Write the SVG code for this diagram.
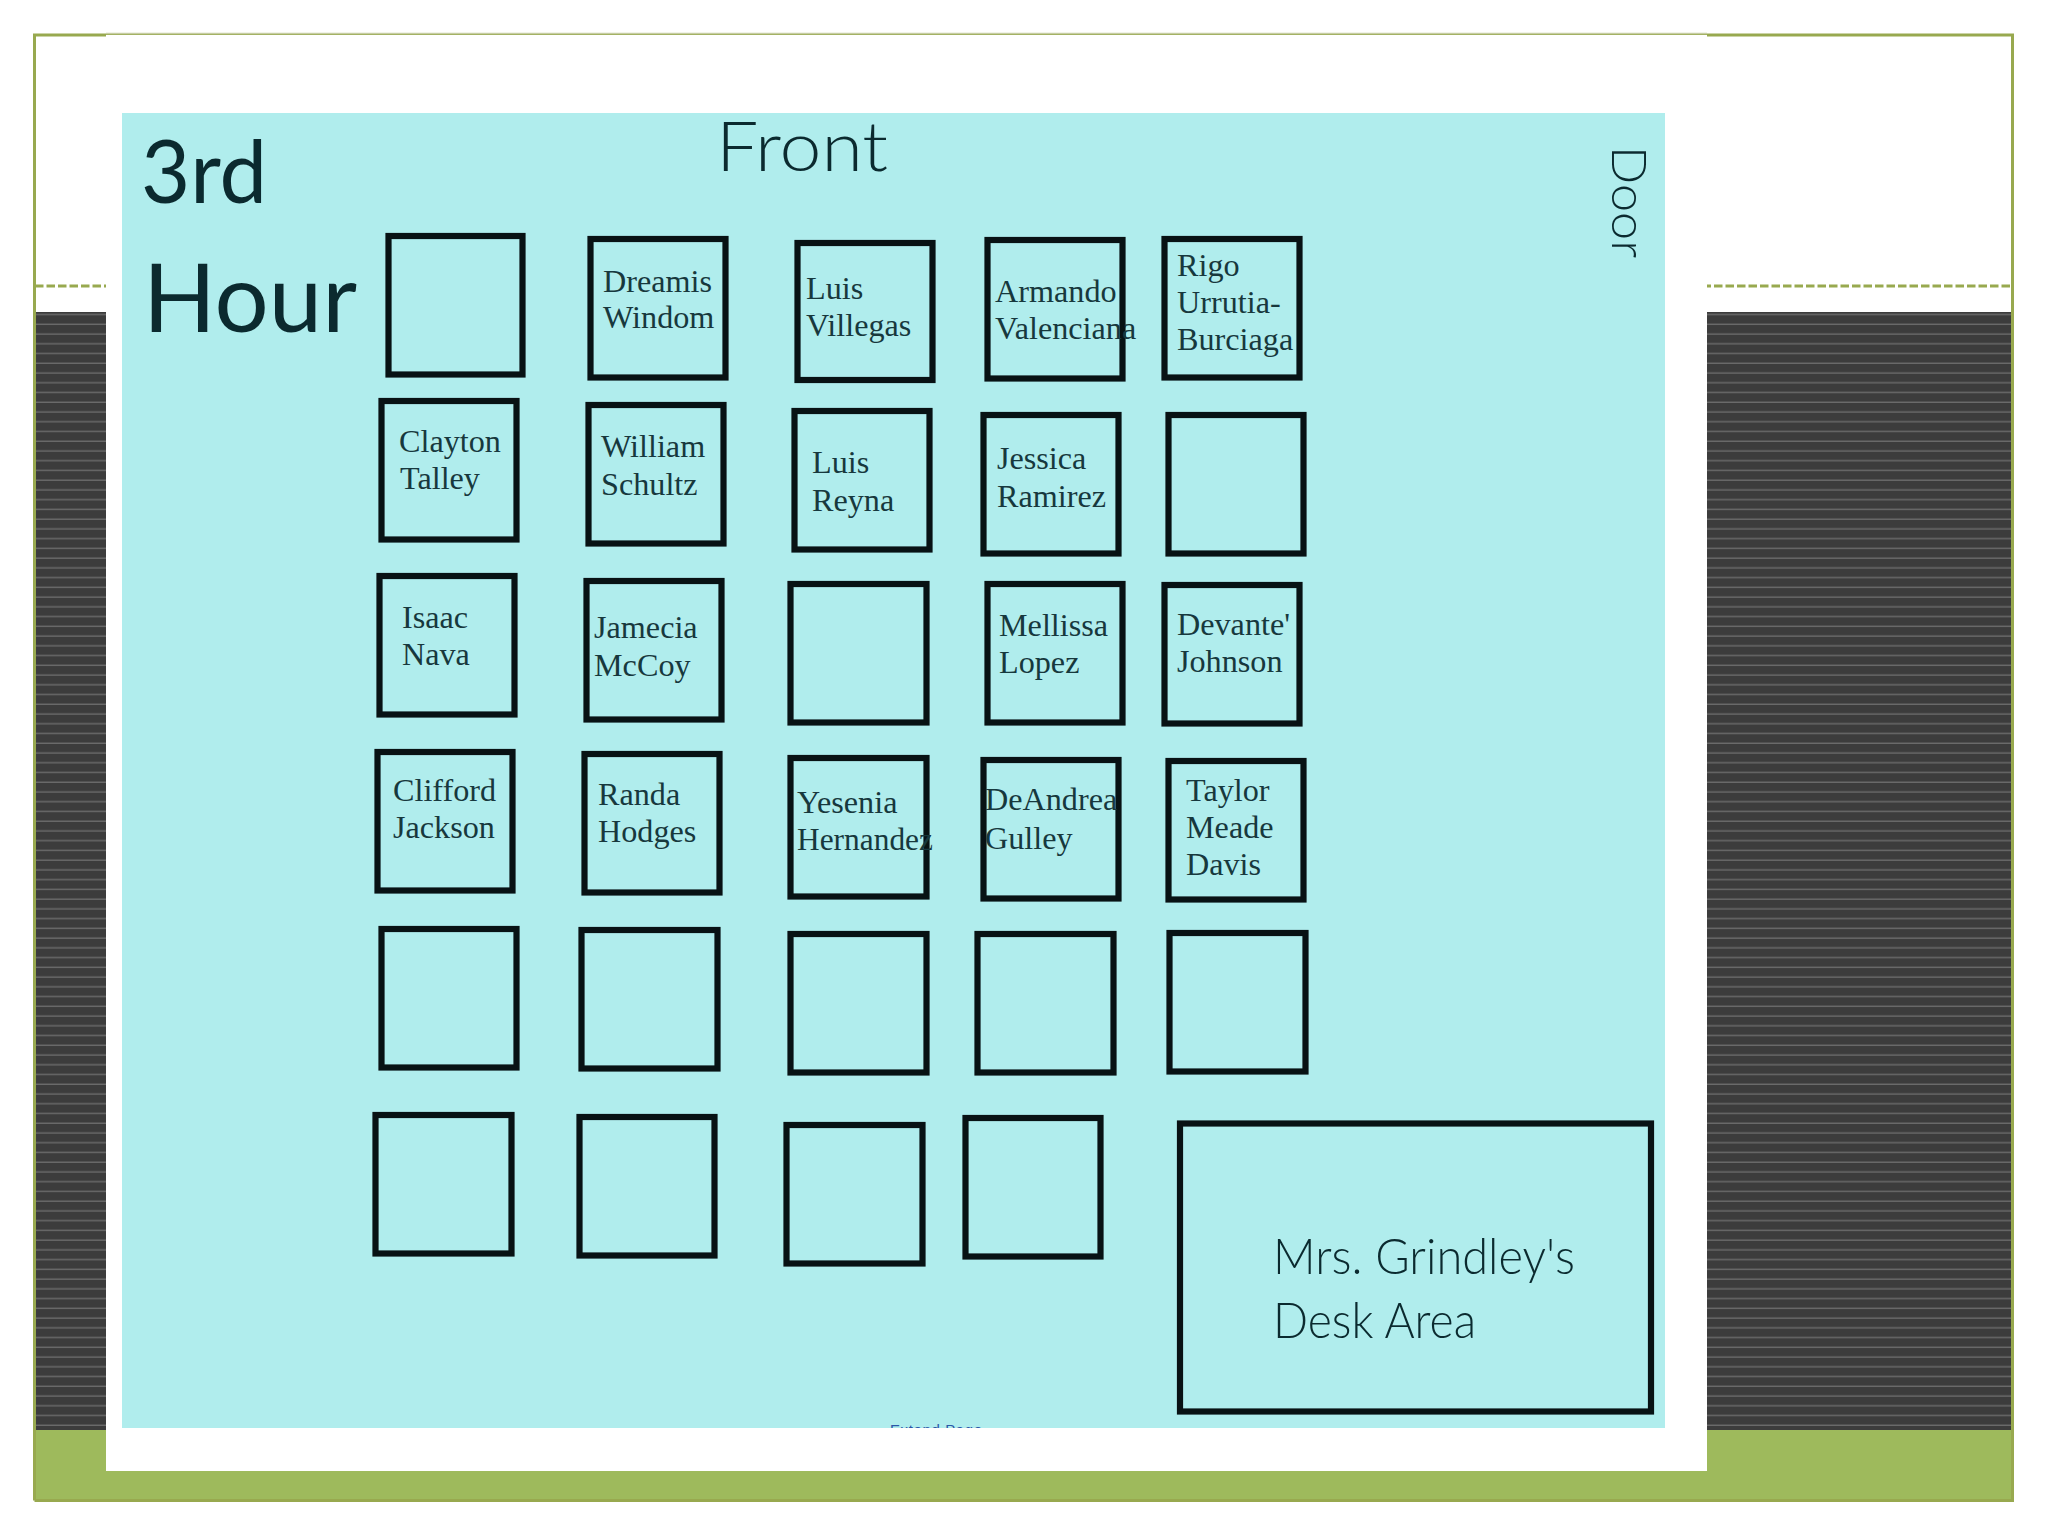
<svg xmlns="http://www.w3.org/2000/svg" width="2048" height="1536" viewBox="0 0 2048 1536">
<style>
.d{fill:none;stroke:#081214;stroke-width:6.200}
.n{font-family:"Liberation Serif",serif;font-size:32.200px;fill:#17383d}
.h{font-family:"Lato","Noto Sans",sans-serif;font-weight:300;fill:#0b2a2f}
.b{font-weight:400}
.f{fill:none;stroke:#98a94f}
</style>
<defs>
<pattern id="st" width="20" height="9.743" patternUnits="userSpaceOnUse" x="0" y="315.300">
<rect width="20" height="9.743" fill="#3c3c3c"/><rect y="8.300" width="20" height="1.500" fill="#6a6a6a"/>
</pattern>
<clipPath id="pc"><rect x="122" y="113" width="1543" height="1315"/></clipPath>
</defs>
<g id="slide">
<rect width="2048" height="1536" fill="#fff"/>
<rect x="35" y="312" width="1976" height="1118" fill="url(#st)"/>
<rect x="35" y="1430" width="1978" height="71" fill="#9eba5c"/>
<path class="f" stroke-width="3" d="M34.500 1500.500V35H2012.500V1500.500H34.500"/>
<path class="f" stroke-width="3" stroke-dasharray="8.500 3" d="M35 286H2011"/>
</g>
<g id="picture">
<rect x="106" y="35" width="1601" height="1436" fill="#fff"/>
<path d="M106 33.500H1707" stroke="#c6cda3" stroke-width="1.500"/>
<rect x="122" y="113" width="1543" height="1315" fill="#b0eded"/>
<text x="890" y="1435" clip-path="url(#pc)" font-family="Liberation Sans,sans-serif" font-size="15" fill="#2a58a8" textLength="92">Extend Page</text>
</g>
<g id="labels">
<text class="h b" x="141" y="203" font-size="88" textLength="126" lengthAdjust="spacingAndGlyphs">3rd</text>
<text class="h b" x="143" y="332" font-size="95" textLength="214" lengthAdjust="spacingAndGlyphs">Hour</text>
<text class="h" x="716" y="171" font-size="68" textLength="172" lengthAdjust="spacingAndGlyphs">Front</text>
<text class="h" transform="translate(1612 146) rotate(90)" font-size="48" textLength="112" lengthAdjust="spacingAndGlyphs">Door</text>
</g>
<g id="desks">
<g id="d11"><rect class="d" x="388.500" y="236" width="134" height="138.500"/></g>
<g id="d12"><rect class="d" x="590.500" y="239" width="135" height="138.500"/><text class="n" x="603" y="292">Dreamis</text><text class="n" x="603" y="328">Windom</text></g>
<g id="d13"><rect class="d" x="797.500" y="243" width="135" height="137"/><text class="n" x="806" y="299">Luis</text><text class="n" x="806" y="336">Villegas</text></g>
<g id="d14"><rect class="d" x="987.500" y="240" width="135" height="138.500"/><text class="n" x="995" y="302">Armando</text><text class="n" x="995" y="339">Valenciana</text></g>
<g id="d15"><rect class="d" x="1164.500" y="239" width="135" height="138.500"/><text class="n" x="1177" y="276">Rigo</text><text class="n" x="1177" y="313">Urrutia-</text><text class="n" x="1177" y="350">Burciaga</text></g>
<g id="d21"><rect class="d" x="381.500" y="401" width="135" height="138.500"/><text class="n" x="399" y="452">Clayton</text><text class="n" x="400" y="489">Talley</text></g>
<g id="d22"><rect class="d" x="588.500" y="405" width="135" height="138.500"/><text class="n" x="601" y="457">William</text><text class="n" x="601" y="495">Schultz</text></g>
<g id="d23"><rect class="d" x="794.500" y="411" width="135" height="138.500"/><text class="n" x="812" y="473">Luis</text><text class="n" x="812" y="511">Reyna</text></g>
<g id="d24"><rect class="d" x="983.500" y="415" width="135" height="138.500"/><text class="n" x="997" y="469">Jessica</text><text class="n" x="997" y="507">Ramirez</text></g>
<g id="d25"><rect class="d" x="1168.500" y="415" width="135" height="138.500"/></g>
<g id="d31"><rect class="d" x="379.500" y="576" width="135" height="138.500"/><text class="n" x="402" y="628">Isaac</text><text class="n" x="402" y="665">Nava</text></g>
<g id="d32"><rect class="d" x="586.500" y="581" width="135" height="138.500"/><text class="n" x="594" y="638">Jamecia</text><text class="n" x="594" y="676">McCoy</text></g>
<g id="d33"><rect class="d" x="790.500" y="584" width="136" height="138.500"/></g>
<g id="d34"><rect class="d" x="987.500" y="584" width="135" height="138.500"/><text class="n" x="999" y="636">Mellissa</text><text class="n" x="999" y="673">Lopez</text></g>
<g id="d35"><rect class="d" x="1164.500" y="585" width="135" height="138.500"/><text class="n" x="1177" y="635">Devante'</text><text class="n" x="1177" y="672">Johnson</text></g>
<g id="d41"><rect class="d" x="377.500" y="752" width="135" height="138.500"/><text class="n" x="393" y="801">Clifford</text><text class="n" x="393" y="838">Jackson</text></g>
<g id="d42"><rect class="d" x="584.500" y="754" width="135" height="138.500"/><text class="n" x="598" y="805">Randa</text><text class="n" x="598" y="842">Hodges</text></g>
<g id="d43"><rect class="d" x="790.500" y="758" width="136" height="138.500"/><text class="n" x="797" y="813">Yesenia</text><text class="n" x="797" y="850" textLength="136" lengthAdjust="spacingAndGlyphs">Hernandez</text></g>
<g id="d44"><rect class="d" x="983.500" y="760" width="135" height="138.500"/><text class="n" x="985" y="810">DeAndrea</text><text class="n" x="985" y="849">Gulley</text></g>
<g id="d45"><rect class="d" x="1168.500" y="761" width="135" height="138.500"/><text class="n" x="1186" y="801">Taylor</text><text class="n" x="1186" y="838">Meade</text><text class="n" x="1186" y="875">Davis</text></g>
<g id="d51"><rect class="d" x="381.500" y="929" width="135" height="138.500"/></g>
<g id="d52"><rect class="d" x="581.500" y="930" width="136" height="138.500"/></g>
<g id="d53"><rect class="d" x="790.500" y="934" width="136" height="138.500"/></g>
<g id="d54"><rect class="d" x="977.500" y="934" width="136" height="138.500"/></g>
<g id="d55"><rect class="d" x="1169.500" y="933" width="136" height="138.500"/></g>
<g id="d61"><rect class="d" x="375.500" y="1115" width="136" height="138.500"/></g>
<g id="d62"><rect class="d" x="579.500" y="1117" width="135" height="138.500"/></g>
<g id="d63"><rect class="d" x="786.500" y="1125" width="136" height="138.500"/></g>
<g id="d64"><rect class="d" x="965.500" y="1118" width="135" height="138.500"/></g>
<g id="desk-area"><rect class="d" x="1180" y="1123.500" width="471" height="288"/><text class="h" x="1273" y="1274" font-size="50" textLength="302" lengthAdjust="spacingAndGlyphs">Mrs. Grindley's</text><text class="h" x="1273" y="1338" font-size="50" textLength="203" lengthAdjust="spacingAndGlyphs">Desk Area</text></g>
</g>
<g id="connectors"/>
</svg>
